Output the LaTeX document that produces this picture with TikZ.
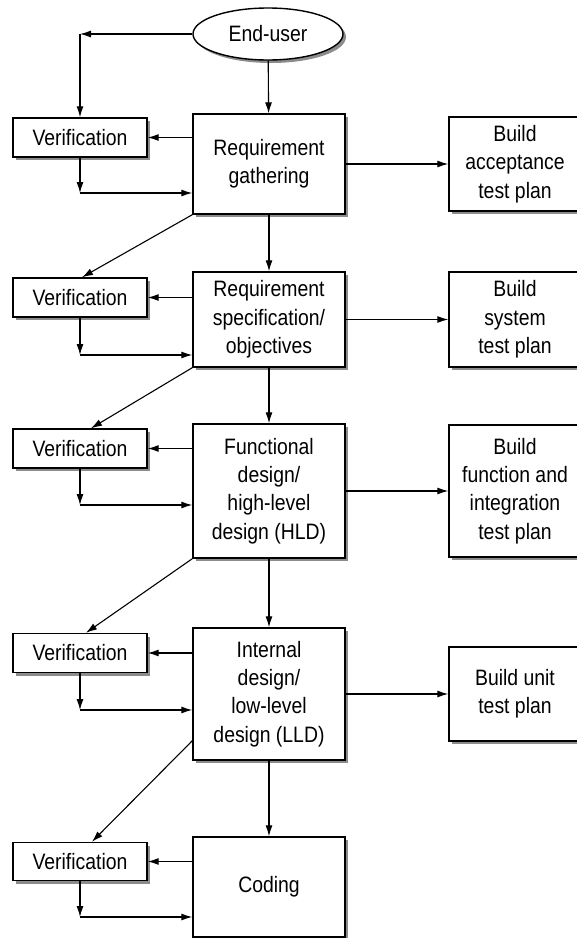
\documentclass[tikz,border=0pt]{standalone}
\usepackage{fontspec}
\setmainfont{Liberation Sans}[FakeStretch=0.87]
\usetikzlibrary{arrows.meta,shapes,shadows}

\begin{document}
\begin{tikzpicture}[x=1pt, y=-1pt,
    font=\fontsize{22.3}{28.3}\selectfont,
    >={Latex[length=11pt,width=7pt]},
    dropgray/.style={drop shadow={shadow xshift=3pt, shadow yshift=-3pt, fill=black!45, opacity=1}},
    box/.style={draw, line width=1.4pt, fill=white, dropgray, align=center, inner sep=0pt},
    verif/.style={box, minimum width=134pt, minimum height=39pt},
    stage/.style={box, minimum width=152pt},
    plan/.style={box, minimum width=132pt},
    flow/.style={->, line width=1.1pt}]
    \useasboundingbox (0,0) rectangle (577,938);

    % End-user
    \node[box, ellipse, minimum width=150pt, minimum height=52pt] (eu) at (268,34) {End-user};

    % Requirement gathering
    \node[verif] (v1) at (80,137.5) {Verification};
    \node[stage, minimum height=100pt] (rg) at (269,164) {Requirement\\gathering};
    \node[plan, minimum height=94pt] (ba) at (515,164) {Build\\acceptance\\test plan};

    % Requirement specification
    \node[verif] (v2) at (80,297.5) {Verification};
    \node[stage, minimum height=95pt] (rs) at (269,319.5) {Requirement\\specification/\\objectives};
    \node[plan, minimum height=95pt] (bs) at (515,319.5) {Build\\system\\test plan};

    % High-level design
    \node[verif] (v3) at (80,448.5) {Verification};
    \node[stage, minimum height=134pt] (hld) at (269,491) {Functional\\design/\\high-level\\design (HLD)};
    \node[plan, minimum height=132pt] (bf) at (515,491) {Build\\function and\\integration\\test plan};

    % Low-level design
    \node[verif] (v4) at (80,653) {Verification};
    \node[stage, minimum height=132pt] (lld) at (269,694) {Internal\\design/\\low-level\\design (LLD)};
    \node[plan, minimum height=94pt] (bu) at (515,694) {Build unit\\test plan};

    % Coding
    \node[verif, minimum height=38pt] (v5) at (80,861.5) {Verification};
    \node[stage, minimum height=100pt] (co) at (269,887) {Coding};

    % turning points of the feedback loops
    \coordinate (e0) at (80,34);
    \coordinate (r1) at (80,193);
    \coordinate (r2) at (80,355);
    \coordinate (r3) at (80,505);
    \coordinate (r4) at (80,710);
    \coordinate (r5) at (80,917);

    % End-user inputs
    \draw[flow] (eu) -- (e0);
    \draw[flow] (e0) -- (v1);
    \draw[flow] (eu) -- (rg);

    % Row 1
    \draw[flow] (rg.west |- v1) -- (v1);
    \draw[flow] (v1) -- (r1);
    \draw[flow] (r1) -- (rg.west |- r1);
    \draw[flow] (rg) -- (ba);
    \draw[flow] (rg) -- (rs);
    \draw[flow] (rg.south west) -- ([xshift=2pt]v2.north);

    % Row 2
    \draw[flow] (rs.west |- v2) -- (v2);
    \draw[flow] (v2) -- (r2);
    \draw[flow] (r2) -- (rs.west |- r2);
    \draw[flow] (rs) -- (bs);
    \draw[flow] (rs) -- (hld);
    \draw[flow] (rs.south west) -- ([xshift=11pt]v3.north);

    % Row 3
    \draw[flow] (hld.west |- v3) -- (v3);
    \draw[flow] (v3) -- (r3);
    \draw[flow] (r3) -- (hld.west |- r3);
    \draw[flow] (hld) -- (bf);
    \draw[flow] (hld) -- (lld);
    \draw[flow] (hld.south west) -- ([xshift=6pt]v4.north);

    % Row 4
    \draw[flow] (lld.west |- v4) -- (v4);
    \draw[flow] (v4) -- (r4);
    \draw[flow] (r4) -- (lld.west |- r4);
    \draw[flow] (lld) -- (bu);
    \draw[flow] (lld) -- (co);
    \draw[flow] ([yshift=20pt]lld.south west) -- ([xshift=12pt]v5.north);

    % Row 5
    \draw[flow] (co.west |- v5) -- (v5);
    \draw[flow] (v5) -- (r5);
    \draw[flow] (r5) -- (co.west |- r5);
\end{tikzpicture}
\end{document}
